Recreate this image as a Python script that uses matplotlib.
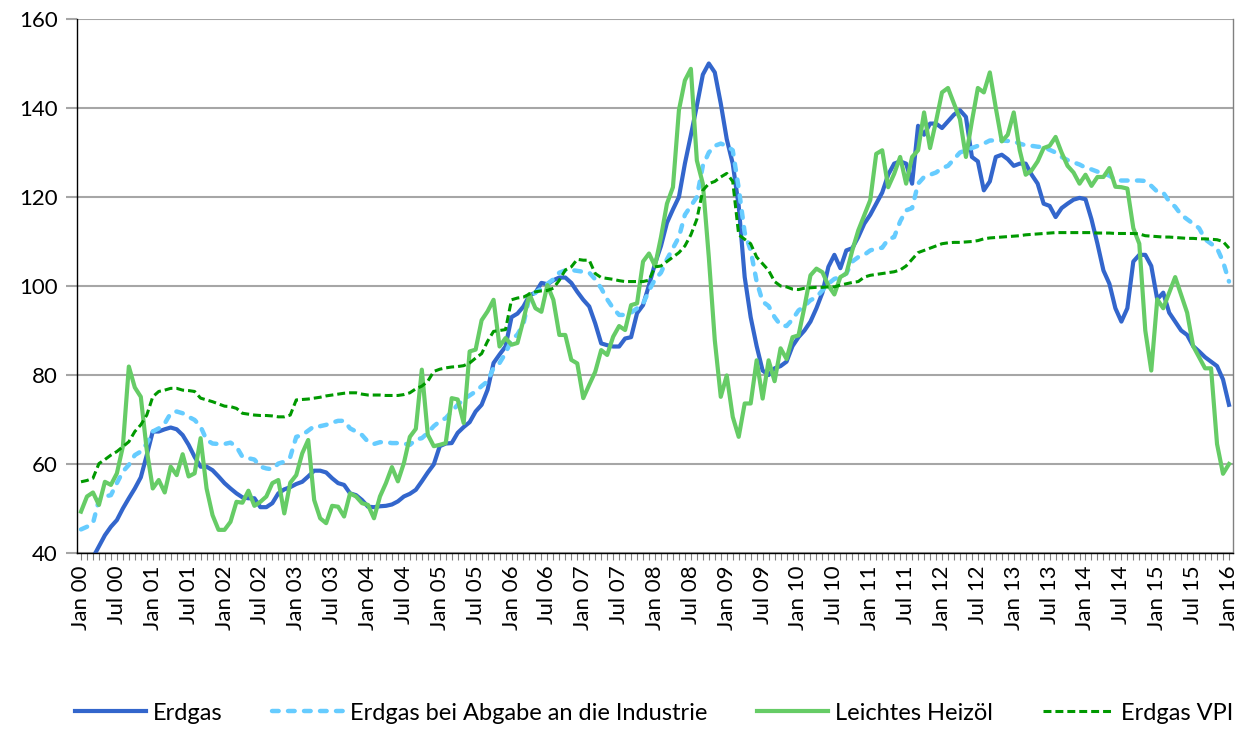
import numpy as np
import matplotlib
matplotlib.use("Agg")
import matplotlib.pyplot as plt

# Monthly index values, Jan 2000 .. Jan 2016 (193 months)
erdgas = [
    35, 37, 39, 41.5, 44, 45.9, 47.4, 50, 52.3, 54.5, 57, 62,
    67.3, 67.3, 67.8, 68.2, 67.8, 66.5, 64.3, 61.6, 59.4, 59.4, 58.6, 57.2,
    55.7, 54.5, 53.4, 52.5, 52.3, 52.3, 50.3, 50.3, 51.2, 53.4, 54.3, 54.8,
    55.5, 56, 57.2, 58.5, 58.5, 58.1, 56.8, 55.7, 55.3, 53.4, 53, 51.9,
    50.4, 50.3, 50.5, 50.6, 50.9, 51.6, 52.7, 53.3, 54.2, 56.1, 58.1, 59.9,
    64, 64.6, 64.7, 67, 68.3, 69.4, 71.8, 73.3, 76.7, 82.7, 84.6, 86.4,
    93, 93.8, 95.4, 97.9, 98.5, 100.7, 100.4, 101.3, 101.9, 101.9, 100.7, 98.7,
    96.9, 95.4, 91.6, 87.1, 86.7, 86.4, 86.4, 88.2, 88.5, 93.9, 95.7, 100.2,
    105, 109, 114.2, 117.2, 120, 127.5, 133.9, 140.5, 147.5, 150, 148, 141,
    133, 127.5, 118, 102, 93, 86.5, 81, 80, 81.5, 82, 83, 86.5,
    88.5, 90, 92, 95, 98.5, 104.3, 107, 104, 108, 108.5, 111, 114,
    116, 118.5, 121, 125, 127.5, 128, 127.5, 123, 136, 134, 136.5, 136.5,
    135.5, 137, 138.5, 139.5, 138, 129, 128, 121.5, 123.5, 129, 129.5, 128.5,
    127, 127.5, 127.5, 125, 123, 118.5, 118, 115.5, 117.5, 118.5, 119.4, 119.8,
    119.5, 115, 109.5, 103.5, 100.5, 95, 92, 95, 105.5, 107, 107, 104.5,
    97, 98.5, 94, 92, 90, 89, 86.5, 85.3, 84, 83, 82, 79,
    73.3,
]

industrie = [
    45.3, 45.9, 46.7, 51.9, 52.7, 53, 55.7, 58.3, 59.8, 62, 62.8, 64.6,
    67.3, 68, 69.1, 71.4, 71.8, 71.4, 70.6, 69.9, 68.4, 65.4, 64.6, 64.5,
    64.5, 64.8, 63.9, 61.6, 61.3, 61, 59.4, 59, 58.8, 60.1, 60.5, 61.6,
    66.1, 66.5, 67.5, 68.5, 68.5, 68.8, 69.3, 69.7, 69.7, 68, 67.3, 66.5,
    65, 64.5, 64.9, 64.9, 64.7, 64.7, 64.6, 64.3, 65.5, 65.8, 67, 68.5,
    69.6, 70.3, 71.8, 73.3, 74.5, 75.4, 76.3, 77.5, 78.6, 81.6, 82.7, 84.9,
    87.9, 89.1, 91.5, 97.6, 98.5, 99.5, 100.5, 101.5, 103, 103.5, 103.6, 103.4,
    103.2, 103, 101.5, 99.5, 97, 95, 93.5, 93.5, 94, 95, 96, 99,
    101.5, 103, 106, 108.5, 111, 116, 118, 120, 127, 130, 131.5, 132,
    131.5, 130.5, 122, 112, 108, 101, 96.5, 95.5, 93, 91.2, 91, 92.5,
    94.5, 95.5, 96.8, 97.5, 99, 100.5, 101.6, 102, 102.8, 105.5, 106.5, 107,
    108, 108.4, 108.6, 110.5, 111, 114.5, 117, 117.5, 123, 124.5, 125, 125.5,
    126.5, 127, 128.5, 130, 130.5, 131, 131.5, 132, 132.7, 132.7, 132.7, 132.6,
    132.5, 132, 131.6, 131.5, 131.3, 131.2, 130.6, 130, 129, 128.3, 127.8, 127.3,
    126.6, 126.2, 125.7, 125.3, 124.8, 123.9, 123.7, 123.7, 123.7, 123.7, 123.6, 122.5,
    121.2, 121, 119, 117.8, 116, 115, 114, 113, 110.5, 109.5, 108.5, 105.5,
    101,
]

heizoel = [
    49.3, 52.7, 53.6, 50.8, 56, 55.3, 57.9, 63.9, 81.9, 77.2, 75.1, 63.1,
    54.5, 56.4, 53.6, 59.4, 57.5, 62.2, 57.2, 57.9, 65.8, 54.5, 48.5, 45.2,
    45.2, 47, 51.5, 51.3, 54, 50.6, 51.5, 52.7, 55.7, 56.4, 48.9, 55.8,
    57.5, 62.4, 65.4, 51.9, 47.8, 46.7, 50.6, 50.4, 48.2, 53.4, 52.7, 51.2,
    50.8, 47.8, 52.7, 55.7, 59.3, 56.1, 60.2, 66.1, 67.9, 81.2, 66.6, 64,
    64.3, 64.7, 74.8, 74.5, 69.2, 85.3, 85.7, 92.3, 94.3, 96.9, 86.4, 88.3,
    86.8, 87.2, 92.4, 98.2, 95, 94.2, 100.2, 96.9, 89, 89, 83.4, 82.6,
    74.8, 77.8, 80.7, 85.6, 84.5, 88.6, 91, 90.1, 95.7, 96.1, 105.5, 107.3,
    104.5, 111, 118.5, 122.2, 139.5, 146.2, 148.8, 128.2, 123, 106.5, 87.8, 75.1,
    79.9, 70.6, 66.1, 73.6, 73.6, 83.3, 74.7, 83.3, 78.6, 86, 83.6, 88.5,
    88.9, 95.3, 102.4, 103.9, 103.1, 100.1, 98.1, 102, 102.8, 108, 112.5, 115.9,
    119.3, 129.7, 130.5, 122.2, 125.2, 129, 123, 129, 130.5, 139, 131, 137,
    143.5, 144.5, 141, 137.5, 129, 137, 144.5, 143.5, 148, 140, 132.5, 134,
    139, 130.5, 125, 126, 128, 131, 131.5, 133.5, 130, 127, 125.5, 123,
    125, 122.5, 124.5, 124.5, 126.5, 122.3, 122.2, 121.9, 113, 109.5, 90, 81,
    97, 95, 98.5, 102, 98, 94, 86.5, 84, 81.5, 81.5, 64.5, 57.8,
    60,
]

vpi = [
    56, 56.3, 56.8, 60.1, 61, 62, 62.8, 63.9, 65, 67.3, 68.8, 71,
    75.1, 76.3, 76.6, 77, 77, 76.6, 76.5, 76.3, 74.8, 74.4, 74, 73.5,
    73, 72.9, 72.5, 71.4, 71.2, 71, 70.9, 70.9, 70.8, 70.6, 70.6, 71,
    74.4, 74.5, 74.6, 74.8, 75, 75.3, 75.5, 75.7, 75.9, 76, 76, 75.7,
    75.5, 75.5, 75.5, 75.4, 75.4, 75.4, 75.6, 76, 76.9, 77.5, 78.6, 80.8,
    81.3, 81.6, 81.8, 81.9, 82.1, 82.7, 83.8, 84.8, 87.6, 89.8, 90, 90.2,
    96.9, 97.3, 97.5, 98.2, 98.7, 98.9, 99, 99.5, 101.3, 103.6, 104.3, 106,
    105.8, 105.8, 102.8, 101.9, 101.7, 101.5, 101.2, 101, 101, 101, 101, 101.3,
    104.3, 104.5, 105.5, 106.5, 107.5, 109, 111.5, 115, 121.5, 123, 123.5, 124.5,
    125.3, 123.5, 111.5, 110.5, 109.5, 106.5, 105, 103.5, 101, 100, 99.8, 99.3,
    99.2, 99.5, 99.6, 99.7, 99.7, 99.8, 99.8, 100.2, 100.5, 100.8, 101, 102,
    102.4, 102.6, 102.8, 103, 103.2, 103.6, 104.5, 106, 107.5, 108, 108.5, 109,
    109.5, 109.7, 109.8, 109.8, 109.9, 110, 110.2, 110.6, 110.8, 110.9, 111, 111.1,
    111.2, 111.3, 111.5, 111.6, 111.7, 111.8, 111.9, 112, 112, 112, 112, 112,
    112, 112, 111.9, 111.9, 111.9, 111.8, 111.8, 111.8, 111.8, 111.7, 111.3, 111.2,
    111.1, 111, 111, 110.9, 110.8, 110.7, 110.7, 110.6, 110.6, 110.5, 110.4, 110,
    108.5,
]

seriesNames = ["Erdgas", "Erdgas bei Abgabe an die Industrie", "Leichtes Heizöl", "Erdgas VPI"]

# Tick labels every half year
tickLabels = []
for year in range(0, 17):
    tickLabels.append("Jan %02d" % year)
    if year < 16:
        tickLabels.append("Jul %02d" % year)

months = np.arange(len(erdgas))
tickPositions = months[::6]

plt.rcParams['font.family'] = ['Lato', 'DejaVu Sans']

fig = plt.figure(figsize=(12.44, 7.29), dpi=100)
ax = fig.add_axes([77 / 1244, 1 - 553 / 729, 1156 / 1244, 534 / 729])

# Horizontal grid
ax.set_axisbelow(True)
ax.yaxis.grid(True, color="#a6a6a6", linewidth=1.5)

ax.plot(months, erdgas, color="#3366cc", linewidth=3.0, label=seriesNames[0],
        solid_joinstyle="round", zorder=2)
ax.plot(months, industrie, color="#66ccff", linewidth=3.2, label=seriesNames[1],
        dashes=(1.5, 2.1), dash_capstyle="round", zorder=3)
ax.plot(months, heizoel, color="#66cc66", linewidth=3.0, label=seriesNames[2],
        solid_joinstyle="round", zorder=4)
ax.plot(months, vpi, color="#009900", linewidth=2.2, label=seriesNames[3],
        dashes=(2.6, 1.3), zorder=5)

ax.set_xlim(-0.67, 192.67)
ax.set_ylim(40, 160)
ax.set_yticks(np.arange(40, 161, 20))

ax.set_xticks(months, minor=True)
ax.set_xticks(tickPositions)
ax.set_xticklabels(tickLabels, rotation=90)

ax.tick_params(axis="y", length=8, width=1.5, color="#a6a6a6", labelsize=16, pad=6)
ax.tick_params(axis="x", which="both", length=5, width=0.8, color="#808080",
               labelsize=16, pad=4)

for side in ["left", "bottom"]:
    ax.spines[side].set_color("black")
    ax.spines[side].set_linewidth(1.0)
ax.spines["top"].set_visible(False)
ax.spines["right"].set_color("#808080")
ax.spines["right"].set_linewidth(1.0)

fig.legend(loc="center", bbox_to_anchor=(654 / 1244, 1 - 713 / 729), ncol=4,
           frameon=False, fontsize=17, handlelength=3.0, handletextpad=0.3,
           columnspacing=2.1)

fig.savefig("out.png", dpi=100)
